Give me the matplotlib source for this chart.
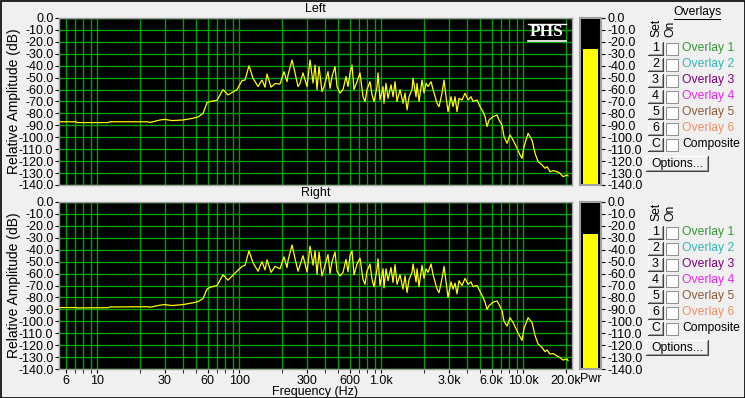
import matplotlib
matplotlib.use('Agg')
import matplotlib.pyplot as plt
from matplotlib.patches import Rectangle
from matplotlib.ticker import NullFormatter, FixedLocator

plt.rcParams['font.family'] = ['Liberation Sans', 'DejaVu Sans']

# ---------------- data ----------------
freq = [5.38, 7.09, 7.21, 11.9, 12.3, 22.8, 23.5, 27.7, 30.0, 33.6,
        40.2, 47.3, 51.3, 55.6, 59.3, 62.3, 69.8, 76.9, 83.4, 96.5,
        104.6, 109.9, 117.2, 125.1, 135.7, 144.7, 152.0, 157.0, 167.5, 178.7,
        193.8, 206.8, 217.1, 220.7, 235.4, 247.2, 259.5, 268.1, 281.4, 300.3,
        315.2, 331.0, 341.9, 353.2, 364.8, 382.9, 395.6, 422.1, 436.0, 450.3,
        472.8, 488.3, 512.8, 538.3, 565.1, 583.8, 603.0, 622.9, 643.4, 675.4,
        709.1, 744.4, 768.9, 794.3, 833.9, 861.4, 889.8, 934.1, 949.6, 980.8,
        1030, 1046, 1081, 1117, 1172, 1211, 1251, 1292, 1357, 1424,
        1471, 1520, 1570, 1648, 1675, 1759, 1787, 1846, 1938, 2002,
        2068, 2136, 2243, 2317, 2472, 2553, 2681, 2769, 2860, 2954,
        3101, 3203, 3309, 3418, 3530, 3707, 3893, 4086, 4290, 4432,
        4728, 4964, 5212, 5383, 5561, 5744, 6129, 6540, 6755, 7091,
        7325, 7691, 8074, 8477, 9045, 9495, 9808, 10130, 10810, 11530,
        12110, 12720, 13570, 14240, 14710, 15440, 16220, 17300, 18160, 19070,
        20350, 20680]

level_left = [-87, -87, -87.7, -87.7, -87, -87, -87.6, -85.5, -85, -86,
              -85.5, -84, -83, -80, -71, -70, -69, -60, -64.5, -60,
              -52.5, -52, -40, -50.5, -57.5, -52, -58, -47, -58, -55,
              -55.3, -45, -53.4, -47.8, -35.2, -46, -57.5, -54.8, -46, -57.5,
              -35.2, -54.5, -39.4, -60, -40.8, -61.7, -57.5, -45, -59, -49,
              -40.8, -57.5, -63, -60, -49, -57.5, -46, -39.4, -60, -53.4,
              -46, -66, -70, -60, -53.4, -64.5, -70, -57.5, -46, -68.7,
              -57.5, -71.5, -54.8, -67.3, -56, -66, -53.4, -70, -60, -71.5,
              -63, -77, -66, -60, -50.5, -66, -54.8, -70, -52, -63,
              -54.8, -57.5, -53.4, -60, -71.5, -74.3, -63, -52, -66, -78.5,
              -66, -74.3, -66, -78.5, -67.3, -68.7, -63, -68.7, -66, -70,
              -68.7, -74.3, -78.5, -82.7, -91, -85.5, -82.7, -81.3, -85.5, -89.7,
              -99.5, -105, -98, -102.3, -109.2, -114.8, -117.6, -107.9, -96.7, -102.3,
              -113.4, -120.4, -123.2, -126, -124.6, -128.8, -128, -128.8, -130.2, -133,
              -131.6, -132.4]

level_right = [-88.5, -88.5, -88.8, -88.6, -88, -87.8, -88.2, -86.5, -86, -86.8,
               -86, -84.5, -83.5, -81, -73, -71.5, -70, -61, -65.5, -58,
               -54, -53, -41, -51, -58, -50, -57, -48.5, -59, -54,
               -56, -46, -55, -49, -36, -47.5, -58, -53, -45, -58.5,
               -37, -53, -41, -60.5, -42, -62, -56, -44, -60, -50,
               -42, -58, -62, -59, -48, -58.5, -45, -41, -61, -52,
               -47, -65, -69, -58, -52, -65, -71, -56, -47.5, -70,
               -56, -72, -56, -66, -55, -67.5, -52.5, -69, -61, -73,
               -62, -76, -65, -59, -52, -67, -56, -71, -53, -64,
               -56, -59, -52, -61, -73, -76, -64, -54, -67, -80,
               -67, -73, -68, -77, -66, -70, -64, -69, -67, -71,
               -70, -75, -80, -84, -90, -87, -84, -83, -86, -91,
               -100, -104, -97, -101, -108, -113, -116, -106, -97, -101,
               -112, -119, -122, -125.5, -124, -127.5, -127, -129, -130.5, -132.5,
               -131.5, -133]

power_left = -26
power_right = -27

db_ticks = list(range(0, -141, -10))
db_ticklabels = [f"{v:.1f}" for v in db_ticks]
freq_major = [6, 10, 30, 60, 100, 300, 600, 1000, 3000, 6000, 10000, 20000]
freq_major_labels = ['6', '10', '30', '60', '100', '300', '600',
                     '1.0k', '3.0k', '6.0k', '10.0k', '20.0k']
freq_minor = [7, 8, 9, 20, 40, 50, 70, 80, 90, 200, 400, 500, 700, 800, 900,
              2000, 4000, 5000, 7000, 8000, 9000]

overlay_keys = ['1', '2', '3', '4', '5', '6', 'C']
overlay_names = ['Overlay 1', 'Overlay 2', 'Overlay 3', 'Overlay 4',
                 'Overlay 5', 'Overlay 6', 'Composite']
overlay_colors = ['#339933', '#33b5b5', '#800080', '#ee22ee',
                  '#8b5a3c', '#f0906a', '#000000']

# ---------------- figure ----------------
W, H = 745, 398
BG = '#f0f0f0'
GRID = '#00a000'
FS = 9

fig = plt.figure(figsize=(W / 100, H / 100), dpi=100)
fig.patch.set_facecolor(BG)


def px_axes(x0, y0, x1, y1, **kw):
    return fig.add_axes([x0 / W, 1 - y1 / H, (x1 - x0) / W, (y1 - y0) / H], **kw)


def spectrum(ax, levels, show_x):
    ax.set_facecolor('black')
    ax.set_xscale('log')
    ax.set_xlim(5.383, 22050)
    ax.set_ylim(-140, 0)
    ax.xaxis.set_major_locator(FixedLocator(freq_major))
    ax.xaxis.set_minor_locator(FixedLocator(freq_minor))
    ax.xaxis.set_minor_formatter(NullFormatter())
    ax.set_xticklabels(freq_major_labels)
    ax.set_yticks(db_ticks)
    ax.set_yticklabels(db_ticklabels)
    ax.grid(True, which='both', axis='x', color=GRID, lw=1)
    ax.grid(True, which='major', axis='y', color=GRID, lw=1)
    ax.set_axisbelow(True)
    ax.plot(freq, levels, color='#ffff00', lw=0.9, zorder=3)
    for s in ax.spines.values():
        s.set_color('#a0a0a0')
        s.set_linewidth(1)
    ax.tick_params(axis='y', length=3, pad=1, labelsize=FS, direction='out')
    if show_x:
        ax.tick_params(axis='x', which='both', length=3, pad=1,
                       labelsize=FS, direction='out')
    else:
        ax.tick_params(axis='x', which='both', length=0, labelbottom=False)


def power_bar(ax, value):
    ax.set_facecolor('black')
    ax.set_xlim(0, 1)
    ax.set_ylim(-140, 0)
    ax.bar([0.5], [value + 140], bottom=-140, width=0.76, color='#ffff00')
    ax.set_xticks([])
    ax.yaxis.tick_right()
    ax.set_yticks(db_ticks)
    ax.set_yticklabels(db_ticklabels)
    ax.tick_params(axis='y', length=3, pad=1.5, labelsize=FS)
    for s in ax.spines.values():
        s.set_color('#a0a0a0')
        s.set_linewidth(1.5)


ax_top = px_axes(59, 18, 572, 185)
ax_bot = px_axes(59, 202, 572, 369)
spectrum(ax_top, level_left, False)
spectrum(ax_bot, level_right, True)

pw_top = px_axes(580, 18, 601, 185)
pw_bot = px_axes(580, 202, 601, 369)
power_bar(pw_top, power_left)
power_bar(pw_bot, power_right)

# overlay axes in pixel coordinates
ov = fig.add_axes([0, 0, 1, 1], zorder=10)
ov.set_xlim(0, W)
ov.set_ylim(H, 0)
ov.axis('off')
ov.patch.set_alpha(0)

LW = 0.75

# titles / labels
ov.text(315.5, 9, 'Left', ha='center', va='center', fontsize=FS)
ov.text(315.5, 193, 'Right', ha='center', va='center', fontsize=FS)
ov.text(14, 101.5, 'Relative Amplitude (dB)', rotation=90,
        ha='center', va='center', fontsize=10)
ov.text(14, 285.5, 'Relative Amplitude (dB)', rotation=90,
        ha='center', va='center', fontsize=10)
ov.text(315.5, 392.5, 'Frequency (Hz)', ha='center', va='center', fontsize=9)
ov.text(591, 379, 'Pwr', ha='center', va='center', fontsize=FS)

# PHS logo
ov.text(546.5, 32.5, 'PHS', ha='center', va='center', color='white',
        fontsize=12.5, fontweight='bold', family=['Liberation Serif', 'DejaVu Serif'])
ov.plot([528, 566], [24, 24], color='white', lw=1)
ov.plot([528, 566], [40.5, 40.5], color='white', lw=1.2)


def button(x0, y0, x1, y1, label, fs=FS):
    ov.add_patch(Rectangle((x0, y0), x1 - x0, y1 - y0, facecolor='#f0f0f0',
                           edgecolor='none'))
    ov.plot([x0, x1], [y0, y0], color='white', lw=LW)
    ov.plot([x0, x0], [y0, y1], color='white', lw=LW)
    ov.plot([x0, x1], [y1, y1], color='#404040', lw=LW)
    ov.plot([x1, x1], [y0, y1], color='#404040', lw=LW)
    ov.plot([x0 + 1, x1 - 1], [y1 - 1, y1 - 1], color='#a0a0a0', lw=LW)
    ov.plot([x1 - 1, x1 - 1], [y0 + 1, y1 - 1], color='#a0a0a0', lw=LW)
    ov.text((x0 + x1) / 2, (y0 + y1) / 2, label, ha='center', va='center',
            fontsize=fs)


def panel(off, header):
    if header:
        ov.text(697, 12, 'Overlays', ha='center', va='center', fontsize=8.7)
        ov.plot([674, 720], [18.5, 18.5], color='black', lw=LW)
    ov.text(656.5, 37 + off, 'Set', rotation=90, ha='center', va='bottom',
            fontsize=8.7)
    ov.text(670, 37 + off, 'On', rotation=90, ha='center', va='bottom',
            fontsize=8.7)
    for i, (k, name, col) in enumerate(zip(overlay_keys, overlay_names,
                                           overlay_colors)):
        yc = 48.5 + 16 * i + off
        button(648, yc - 7, 663, yc + 6.5, k)
        ov.add_patch(Rectangle((666, yc - 6), 12, 12, facecolor='white',
                               edgecolor='#909090', lw=LW))
        ov.text(682, yc, name, ha='left', va='center', fontsize=8.7, color=col)
    button(646, 156 + off, 708, 171 + off, 'Options...', fs=8.7)


panel(0, True)
panel(184, False)

# window border
ov.add_patch(Rectangle((0.5, 0.5), W - 1, H - 1, facecolor='none',
                       edgecolor='black', lw=1.2, clip_on=False))

fig.savefig('out.png', dpi=100, facecolor=BG)
